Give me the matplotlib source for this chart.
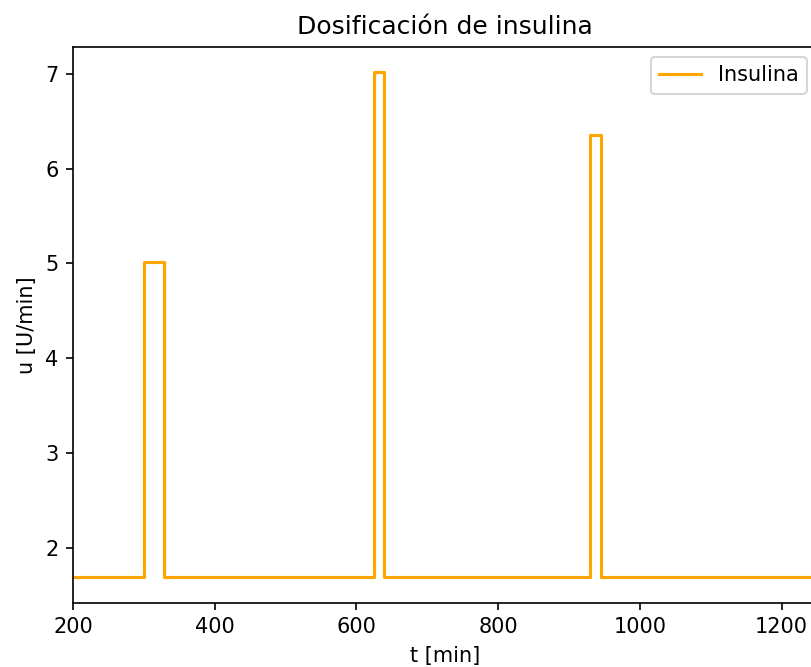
import matplotlib
matplotlib.use("Agg")
import matplotlib.pyplot as plt

# insulin dosing profile (step function)
t_min = [200, 300, 328, 625, 639, 930, 945, 1250]
u_dose = [1.687, 5.02, 1.687, 7.02, 1.687, 6.35, 1.687, 1.687]

fig = plt.figure(figsize=(811 / 150, 667 / 150), dpi=150)
ax = fig.add_axes([73 / 811, 64.3 / 667, 744 / 811, 556 / 667])

ax.step(t_min, u_dose, where="post", color="orange", linewidth=1.5, label="Insulina")

ax.set_xlim(200, 1250)
ax.set_title("Dosificación de insulina")
ax.set_xlabel("t [min]")
ax.set_ylabel("u [U/min]")
ax.legend(loc="upper right")

plt.savefig("out.png", dpi=150)
plt.close()
